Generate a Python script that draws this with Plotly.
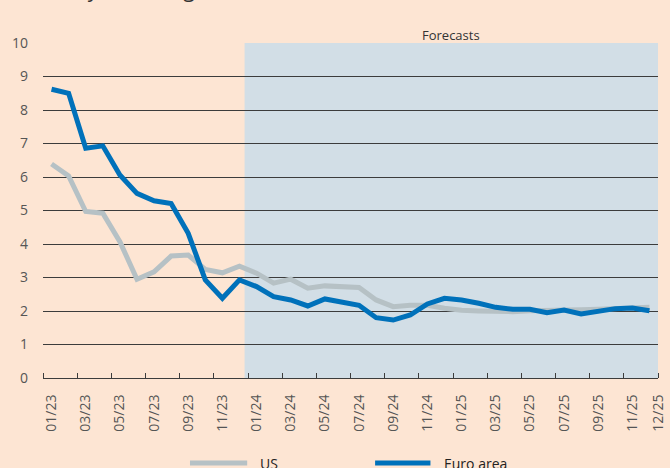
import plotly.graph_objects as go

# Monthly observations and forecasts, Jan 2023 - Dec 2025
months = [f"{m:02d}/{y}" for y in (23, 24, 25) for m in range(1, 13)]

us = [6.39, 6.03, 4.97, 4.92, 4.07, 2.95, 3.17, 3.64, 3.67, 3.24, 3.14, 3.34,
      3.13, 2.83, 2.95, 2.68, 2.75, 2.73, 2.70, 2.33, 2.13, 2.17, 2.17, 2.08,
      2.02, 2.00, 1.99, 1.98, 2.01, 2.03, 2.02, 2.04, 2.05, 2.06, 2.08, 2.11]

euro_area = [8.62, 8.50, 6.86, 6.93, 6.06, 5.51, 5.29, 5.21, 4.32, 2.93, 2.38, 2.93,
             2.73, 2.43, 2.33, 2.15, 2.36, 2.25, 2.17, 1.80, 1.73, 1.88, 2.21, 2.38,
             2.33, 2.23, 2.11, 2.05, 2.05, 1.95, 2.03, 1.91, 1.98, 2.07, 2.09, 2.01]

series_names = ["US", "Euro area"]
series_colors = ["#b6c1c5", "#0071ba"]

# Labelled months every second month, plus the final month at the axis end
tick_labels = months[0::2] + [months[-1]]
y_ticks = list(range(0, 11))

forecast_start = 11.3  # shading begins just before Jan 2024
bg = "#fde5d3"
shade = "#d2dee6"
grid = "#3c3c3c"
font_family = "Open Sans, Noto Sans, sans-serif"

x_idx = list(range(len(months)))
tick_pos = x_idx[0::2] + [len(months) - 0.5]

fig = go.Figure()
for name, vals, col in zip(series_names, [us, euro_area], series_colors):
    fig.add_trace(go.Scatter(
        x=x_idx, y=vals, mode="lines", name=name,
        line=dict(color=col, width=5), showlegend=False,
    ))

# Forecast period shading
fig.add_shape(type="rect", xref="x", yref="y",
              x0=forecast_start, x1=len(months) - 0.5, y0=0, y1=10,
              fillcolor=shade, line=dict(width=0), layer="below")

fig.add_annotation(text="Forecasts", xref="paper", yref="paper",
                   x=0.663, y=1.057, showarrow=False,
                   font=dict(size=13, color="#333333", family=font_family))

# Chart heading, sitting at the very top edge of the page
fig.add_annotation(text="Year-on-year change (%)", xref="paper", yref="paper",
                   x=-0.065, y=1.160, xanchor="left", yanchor="middle",
                   showarrow=False,
                   font=dict(size=21, color="#333333", family=font_family))

# Legend drawn below the axis
legend_items = [
    (series_names[0], series_colors[0], 0.239, 0.332, 0.349),
    (series_names[1], series_colors[1], 0.540, 0.630, 0.648),
]
for name, col, lx0, lx1, tx in legend_items:
    fig.add_shape(type="line", xref="paper", yref="paper",
                  x0=lx0, x1=lx1, y0=-0.254, y1=-0.254,
                  line=dict(color=col, width=5))
    fig.add_annotation(text=name, xref="paper", yref="paper",
                       x=tx, y=-0.254, xanchor="left", yanchor="middle",
                       showarrow=False,
                       font=dict(size=14, color="#222222", family=font_family))

fig.update_layout(
    width=670, height=468,
    margin=dict(l=43, r=12, t=43, b=90, autoexpand=False),
    paper_bgcolor=bg, plot_bgcolor=bg,
    font=dict(family=font_family, size=14, color="#555555"),
    showlegend=False,
)

fig.update_xaxes(
    range=[-0.5, len(months) - 0.5], automargin=False,
    tickmode="array", tickvals=tick_pos, ticktext=tick_labels,
    tickangle=-90, ticks="", ticklabelstandoff=10,
    showgrid=False, zeroline=False,
    showline=True, linecolor=grid, linewidth=1,
    tickfont=dict(size=14, color="#555555"),
    minor=dict(tickmode="array",
               tickvals=[i - 0.5 for i in range(0, len(months) + 1, 2)],
               ticks="inside", ticklen=5, tickcolor=grid, tickwidth=1,
               showgrid=False),
)

fig.update_yaxes(
    range=[0, 10], tickmode="array", tickvals=y_ticks, automargin=False,
    showgrid=True, gridcolor=grid, gridwidth=1,
    zeroline=False, showline=False, ticks="",
    ticklabelstandoff=14,
    tickfont=dict(size=14, color="#555555"),
)

fig.write_html("out.html")
